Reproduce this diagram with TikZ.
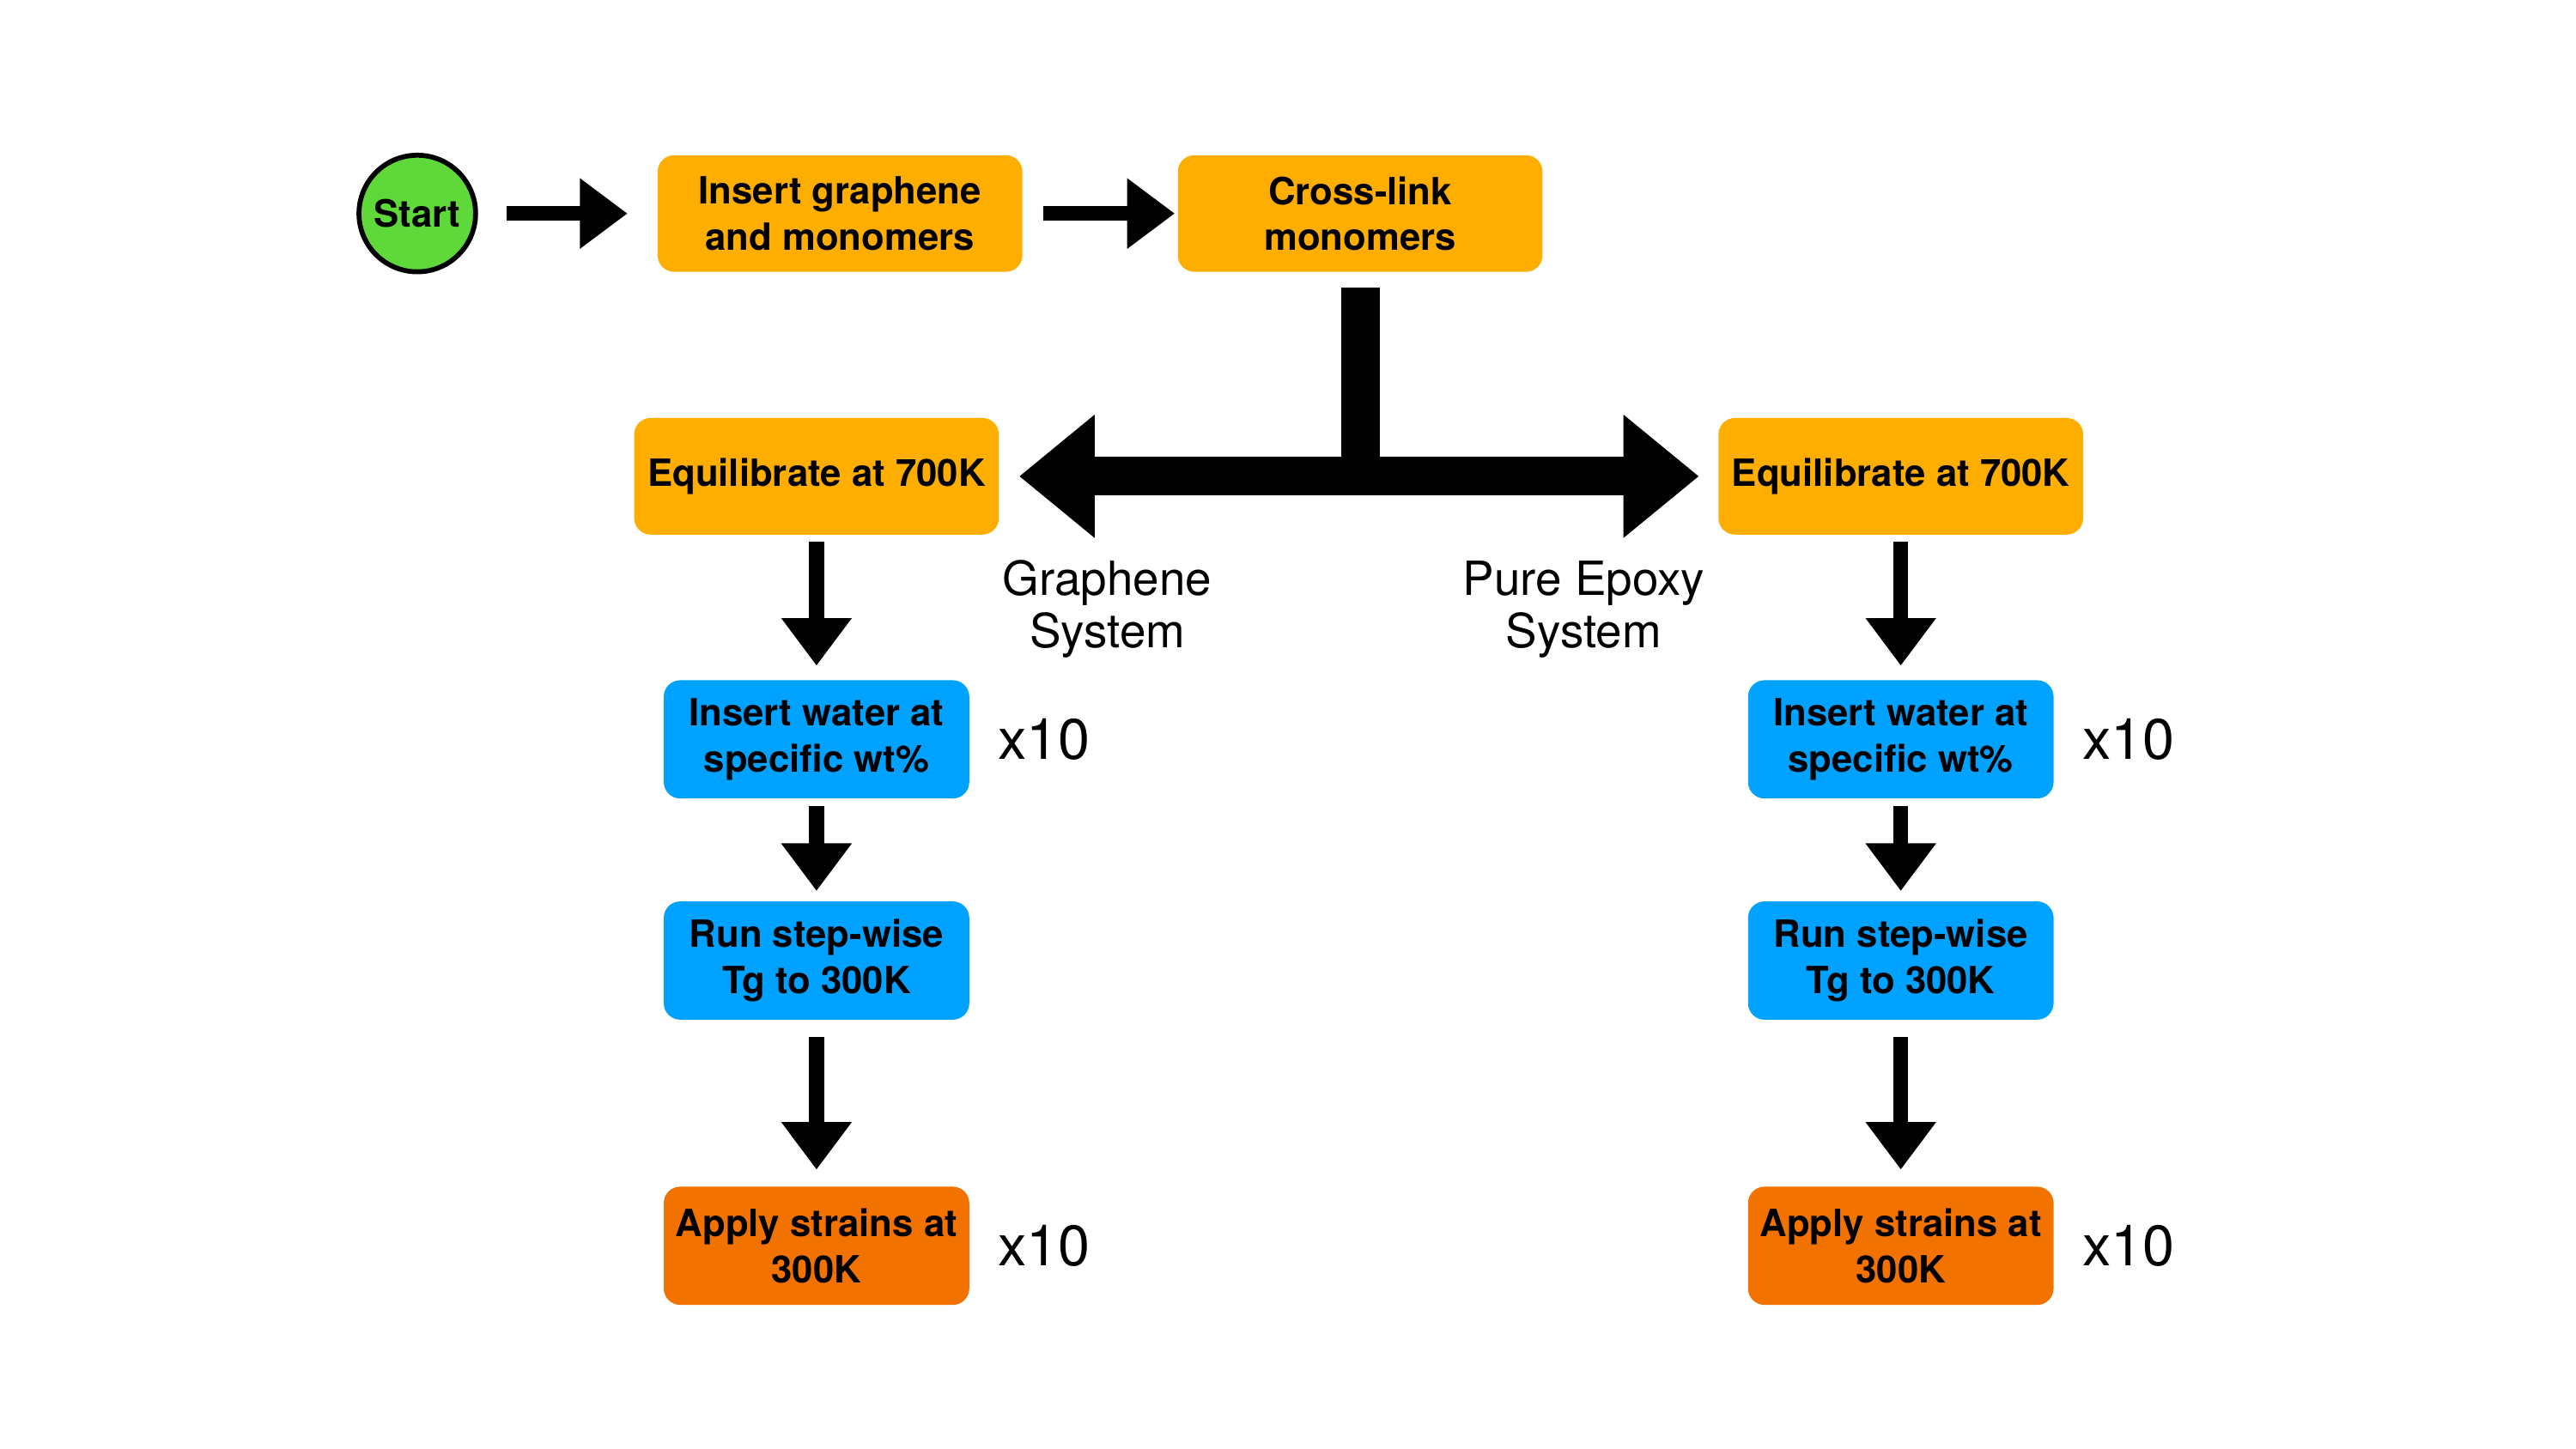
\documentclass[tikz,border=0pt]{standalone}
\usepackage{fontspec}
\setmainfont{TeX Gyre Heros}
\usetikzlibrary{arrows.meta,positioning}
\definecolor{stageOrange}{HTML}{FDAE00}
\definecolor{waterBlue}{HTML}{00A2FF}
\definecolor{strainOrange}{HTML}{F27200}
\definecolor{startGreen}{HTML}{5FD93A}
\newcommand{\boxfont}{\fontsize{13}{15.9}\selectfont\bfseries}
\newcommand{\sysfont}{\fontsize{16.3}{18.2}\selectfont}
\newcommand{\repfont}{\fontsize{19.8}{22}\selectfont}
\tikzset{
    stage/.style={
        rectangle,
        rounded corners=0.2cm,
        fill=stageOrange,
        align=center,
        inner sep=0pt,
        minimum width=4.44cm,
        minimum height=1.42cm,
        font=\boxfont
    },
    waterbox/.style={
        stage,
        fill=waterBlue,
        minimum width=3.72cm,
        minimum height=1.44cm
    },
    strainbox/.style={waterbox, fill=strainOrange},
    startnode/.style={
        circle,
        draw=black,
        line width=0.06cm,
        fill=startGreen,
        inner sep=0pt,
        minimum size=1.42cm,
        font=\boxfont
    },
    syslabel/.style={align=center, inner sep=0pt, font=\sysfont},
    replabel/.style={inner sep=0pt, font=\repfont},
    arrow/.style={-{Triangle[length=0.58cm,width=0.82cm]},line width=0.18cm},
    bigarrow/.style={-{Triangle[length=0.92cm,width=1.44cm]},line width=0.47cm}
}

\begin{document}
\begin{tikzpicture}[x=0.02cm, y=-0.02cm]
    \useasboundingbox (0,0) rectangle (1568,882);

    % top row
    \node[startnode] (start) at (254,130) {Start};
    \node[stage, right=2.18cm of start] (insert) {Insert graphene\\and monomers};
    \node[stage, right=1.88cm of insert] (cross) {Cross-link\\monomers};

    % graphene system
    \node[stage] (eqG) at (497,290) {Equilibrate at 700K};
    \node[waterbox, below=1.76cm of eqG] (waterG) {Insert water at\\specific wt\%};
    \node[waterbox, below=1.24cm of waterG] (tgG) {Run step-wise\\Tg to 300K};
    \node[strainbox, below=2.02cm of tgG] (strainG) {Apply strains at\\300K};

    % pure epoxy system
    \node[stage] (eqE) at (1157,290) {Equilibrate at 700K};
    \node[waterbox, below=1.76cm of eqE] (waterE) {Insert water at\\specific wt\%};
    \node[waterbox, below=1.24cm of waterE] (tgE) {Run step-wise\\Tg to 300K};
    \node[strainbox, below=2.02cm of tgE] (strainE) {Apply strains at\\300K};

    \node[syslabel] (sysG) at (674,371) {Graphene\\System};
    \node[syslabel] (sysE) at (964,371) {Pure Epoxy\\System};

    \node[replabel, right=0.34cm of waterG] (repWG) {x10};
    \node[replabel, right=0.34cm of strainG] (repSG) {x10};
    \node[replabel, right=0.34cm of waterE] (repWE) {x10};
    \node[replabel, right=0.34cm of strainE] (repSE) {x10};

    \coordinate (junc) at (cross.south |- eqG.east);

    \draw[arrow, shorten <=0.35cm, shorten >=0.36cm] (start) -- (insert);
    \draw[arrow, shorten <=0.25cm, shorten >=0.03cm] (insert) -- (cross);

    % split
    \draw[line width=0.47cm] ([yshift=-0.18cm]cross.south) -- (junc);
    \draw[bigarrow, shorten >=0.24cm] (junc) -- (eqG.east);
    \draw[bigarrow, shorten >=0.23cm] (junc) -- (eqE.west);

    \draw[arrow, shorten <=0.08cm, shorten >=0.17cm] (eqG) -- (waterG);
    \draw[arrow, shorten <=0.09cm, shorten >=0.12cm] (waterG) -- (tgG);
    \draw[arrow, shorten <=0.2cm, shorten >=0.2cm] (tgG) -- (strainG);
    \draw[arrow, shorten <=0.08cm, shorten >=0.17cm] (eqE) -- (waterE);
    \draw[arrow, shorten <=0.09cm, shorten >=0.12cm] (waterE) -- (tgE);
    \draw[arrow, shorten <=0.2cm, shorten >=0.2cm] (tgE) -- (strainE);
\end{tikzpicture}
\end{document}
